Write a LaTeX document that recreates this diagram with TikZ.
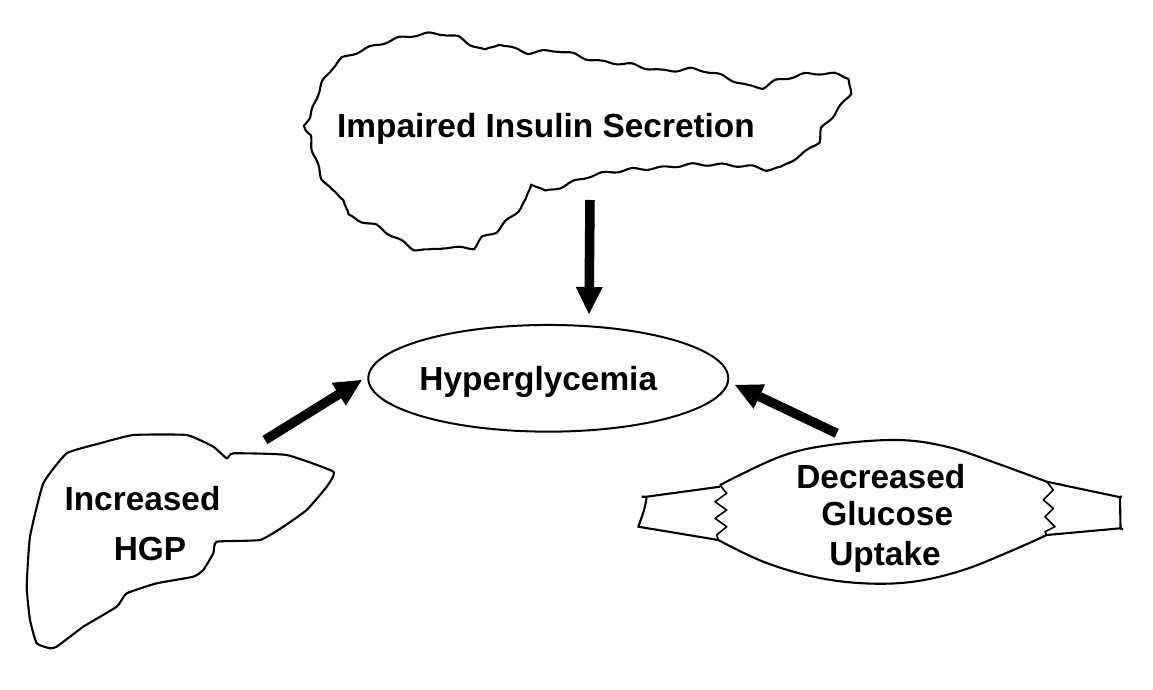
\documentclass[tikz,border=0pt]{standalone}
\usepackage{fontspec}
\setmainfont{Liberation Sans}
\usetikzlibrary{arrows.meta,shapes.geometric,decorations.pathmorphing}
\begin{document}
\begin{tikzpicture}[x=1pt,y=-1pt,
  organ/.style={draw=black, line width=2.1pt, line join=round},
  wavy/.style={decorate, decoration={snake, amplitude=1.3pt, segment length=30pt}},
  lbl/.style={font=\fontsize{33.4}{38}\selectfont\bfseries, inner sep=0pt, anchor=base},
  bigarrow/.style={line width=9.5pt, -{Triangle[length=27pt,width=27pt,line width=0pt]}},
]
\useasboundingbox[fill=white] (0,0) rectangle (1153,690);

% pancreas
\draw[organ, wavy] plot[smooth cycle, tension=0.55] coordinates {
 (305,131.7) (310,118.3) (315,101.7) (323.3,85) (336.7,68.3) (363.3,56.7) (400,45) (433.3,41)
 (456.7,45) (480,56.7) (496.7,51.7) (523.3,60) (556.7,58.3) (593.3,68.3) (626.7,71.7) (660,78.3)
 (693.3,76.7) (720,83.3) (753.3,95) (776.7,86.7) (810,80) (840,81.7) (850,90) (846.7,101.7)
 (836.7,115) (820,135) (813.3,151.7) (793.3,165) (773.3,176.7) (746.7,173.3) (716.7,171.7)
 (686.7,171.7) (656.7,175) (626.7,176.7) (593.3,181.7) (573.3,188.3) (543.3,198.3) (528.3,191.7)
 (523.3,208.3) (510,221.7) (496.7,235) (481,243) (468,254) (443.3,253.3) (416.7,256.7)
 (390,241.7) (373.3,231.7) (346.7,221.7) (340,205) (323.3,191.7) (313.3,168.3) (308.3,148.3)};

% liver
\draw[organ] plot[smooth cycle, tension=0.25] coordinates {
 (43.3,483.3) (66.7,453.3) (100,443.3) (133.3,435) (186.7,435) (213.3,446.7) (226.7,458.3)
 (233.3,453.3) (286.7,455) (333.3,471.7) (326.7,486.7) (306.7,510) (283.3,526.7) (260,540)
 (216.7,541.7) (213.3,553.3) (203.3,570) (193.3,576.7) (156.7,583.3) (126.7,593.3) (116.7,606.7)
 (83.3,626.7) (56.7,646.7) (50,648.3) (36.7,643.3) (30,620) (26.7,586.7) (30,536.7)};

% muscle
\draw[organ] plot[smooth, tension=0.6] coordinates {
 (720,485) (780,456.7) (830,445) (896.7,440) (946.7,446.7) (996.7,463.3) (1046.7,481.7)};
\draw[organ] plot[smooth, tension=0.6] coordinates {
 (718.3,540) (763.3,561.7) (813.3,576.7) (863.3,583.3) (913.3,581.7) (963.3,570) (1013.3,550) (1046.7,535)};
\draw[organ, line width=1.6pt] (720,485) -- (726.7,493.3) -- (715,501.7) -- (726.7,510) -- (715,518.3)
 -- (726.7,526.7) -- (716.7,535) -- (718.3,540);
\draw[organ, line width=1.6pt] (1046.7,481.7) -- (1053.3,490) -- (1043.3,500) -- (1053.3,508.3)
 -- (1045,516.7) -- (1055,526.7) -- (1045,531.7) -- (1046.7,535);
\draw[organ] (720,486.7) -- (646.7,496.7) -- (641.5,496.7);
\draw[organ] (646.7,496.7) .. controls (645,508) .. (638.3,526.7) -- (718.3,540);
\draw[organ] (1046.7,481.7) -- (1119,497) -- (1122,496.5);
\draw[organ] (1120,497) -- (1120.5,528.3) -- (1123,529.5);
\draw[organ] (1120.5,528.3) -- (1046.7,535);

% hyperglycemia
\node[ellipse, draw=black, line width=2pt, minimum width=360pt, minimum height=106.7pt,
      inner sep=0pt] (hyper) at (548.3,378.3) {};

% labels
\node[lbl] (pancText) at (546,137) {Impaired Insulin Secretion};
\node[lbl] (hyperText) at (538.3,390) {Hyperglycemia};
\node[lbl] (liverText1) at (142.5,510) {Increased};
\node[lbl] (liverText2) at (150,560) {HGP};
\node[lbl] (muscText1) at (880.8,488.3) {Decreased};
\node[lbl] (muscText2) at (887.2,525) {Glucose};
\node[lbl] (muscText3) at (885,565.5) {Uptake};

% arrows
\coordinate (pancOut) at (590,200);
\coordinate (hyperTop) at (589,314);
\coordinate (liverOut) at (265,440);
\coordinate (hyperLeft) at (361.7,380);
\coordinate (muscleOut) at (836.7,433.3);
\coordinate (hyperRight) at (735,385);
\draw[bigarrow] (pancOut) -- (hyperTop);
\draw[bigarrow] (liverOut) -- (hyperLeft);
\draw[bigarrow] (muscleOut) -- (hyperRight);
\end{tikzpicture}
\end{document}
